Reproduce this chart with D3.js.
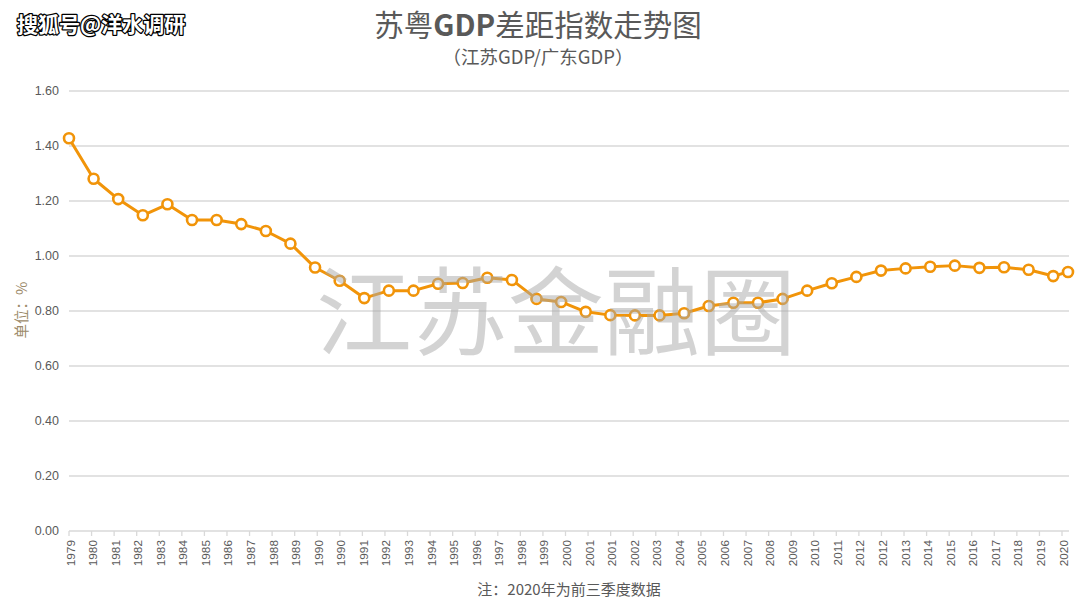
<!DOCTYPE html>
<html><head><meta charset="utf-8">
<script src="https://cdn.jsdelivr.net/npm/d3@7"></script>
<style>
html,body{margin:0;padding:0;background:#fff;}
svg{display:block;}
</style></head>
<body>
<svg id="chart" width="1080" height="603"></svg>
<script>
// ---- data ----
const years = [1979,1980,1981,1982,1983,1984,1985,1986,1987,1988,1989,1990,1991,1992,1993,1994,1995,1996,1997,1998,1999,2000,2001,2002,2003,2004,2005,2006,2007,2008,2009,2010,2011,2012,2013,2014,2015,2016,2017,2018,2019,2020];
// horizontal position of each point in year units (2020 = first three quarters, drawn short of a full year)
const xYears = [1979,1980,1981,1982,1983,1984,1985,1986,1987,1988,1989,1990,1991,1992,1993,1994,1995,1996,1997,1998,1999,2000,2001,2002,2003,2004,2005,2006,2007,2008,2009,2010,2011,2012,2013,2014,2015,2016,2017,2018,2019,2019.6];
const ratio = [1.428,1.281,1.207,1.148,1.188,1.131,1.131,1.116,1.091,1.045,0.958,0.910,0.847,0.874,0.874,0.899,0.902,0.921,0.913,0.844,0.833,0.797,0.785,0.784,0.784,0.792,0.818,0.830,0.830,0.844,0.874,0.901,0.924,0.947,0.955,0.961,0.965,0.957,0.959,0.950,0.927,0.942];
const xTickLabels = ["1979","1980","1981","1982","1983","1984","1985","1986","1987","1988","1989","1990","1990","1991","1992","1993","1994","1995","1996","1997","1998","1999","2000","2001","2001","2002","2003","2004","2005","2006","2007","2008","2009","2010","2011","2012","2012","2013","2014","2015","2016","2017","2018","2019","2020"];
const yTicks = [0,0.2,0.4,0.6,0.8,1.0,1.2,1.4,1.6];
const titleText = "苏粤GDP差距指数走势图";
const subtitleText = "（江苏GDP/广东GDP）";
const yAxisTitle = "单位：%";
const footnote = "注：2020年为前三季度数据";
const watermarkText = "江苏金融圈";
const sourceMark = "搜狐号@洋水调研";

(function () {
// ---- layout ----
const svg = d3.select("#chart");
const pLeft = 69, pRight = 1069, pTop = 91, pBottom = 531;
const lineColor = "#f19409";
const gridColor = "#d9d9d9";
const textColor = "#595959";

const x = d3.scaleLinear().domain([1979, 2019.6]).range([pLeft, 1068]);
const y = d3.scaleLinear().domain([0, 1.6]).range([pBottom, pTop]);
const xTick = d3.scalePoint().domain(d3.range(xTickLabels.length)).range([pLeft, 1062]);

// gridlines
svg.append("g").selectAll("line").data(yTicks.slice(1)).join("line")
  .attr("x1", pLeft).attr("x2", pRight)
  .attr("y1", d => y(d)).attr("y2", d => y(d))
  .attr("stroke", gridColor).attr("stroke-width", 1.3);

// y labels
svg.append("g").selectAll("text").data(yTicks).join("text")
  .attr("x", 59).attr("y", d => y(d)).attr("dy", "0.35em")
  .attr("text-anchor", "end")
  .attr("font-family", "Liberation Sans, Arial, sans-serif").attr("font-size", 12.5)
  .attr("fill", textColor).text(d => d.toFixed(2));

// x axis line & ticks
svg.append("line").attr("x1", pLeft).attr("x2", pRight).attr("y1", pBottom).attr("y2", pBottom)
  .attr("stroke", gridColor).attr("stroke-width", 1.5);
svg.append("g").selectAll("line").data(d3.range(xTickLabels.length)).join("line")
  .attr("x1", d => xTick(d)).attr("x2", d => xTick(d))
  .attr("y1", pBottom).attr("y2", pBottom + 5)
  .attr("stroke", gridColor).attr("stroke-width", 1.3);
svg.append("g").selectAll("text").data(xTickLabels).join("text")
  .attr("transform", (d, i) => `translate(${xTick(i) + 5.5},540) rotate(-90)`)
  .attr("text-anchor", "end")
  .attr("font-family", "Liberation Sans, Arial, sans-serif").attr("font-size", 11.8)
  .attr("fill", textColor).text(d => d);

// line
const pts = ratio.map((v, i) => [x(xYears[i]), y(v)]);
svg.append("path").attr("d", d3.line()(pts))
  .attr("fill", "none").attr("stroke", lineColor).attr("stroke-width", 3)
  .attr("stroke-linejoin", "round");
svg.append("g").selectAll("circle").data(pts).join("circle")
  .attr("cx", d => d[0]).attr("cy", d => d[1]).attr("r", 5)
  .attr("fill", "#fff").attr("stroke", lineColor).attr("stroke-width", 2.6);

// watermark
svg.append("text").attr("x", 556).attr("y", 305).attr("dominant-baseline", "central")
  .attr("text-anchor", "middle")
  .attr("font-family", "Noto Sans CJK SC, sans-serif").attr("font-size", 96)
  .attr("fill", "#a8a8a8").attr("fill-opacity", 0.5).text(watermarkText);

// titles
svg.append("text").attr("x", 538).attr("y", 23).attr("dominant-baseline", "central")
  .attr("text-anchor", "middle")
  .attr("font-family", "Noto Sans CJK SC, sans-serif").attr("font-size", 29.5)
  .attr("fill", textColor)
  .call(t => {
    t.append("tspan").text(titleText.slice(0, 2));
    t.append("tspan").attr("font-weight", "bold").text(titleText.slice(2, 5));
    t.append("tspan").text(titleText.slice(5));
  });
svg.append("text").attr("x", 538).attr("y", 56).attr("dominant-baseline", "central")
  .attr("text-anchor", "middle")
  .attr("font-family", "Noto Sans CJK SC, sans-serif").attr("font-size", 18.5)
  .attr("fill", textColor).text(subtitleText);

// y-axis title
svg.append("text").attr("transform", "translate(20,310) rotate(-90)")
  .attr("text-anchor", "middle").attr("dominant-baseline", "central")
  .attr("font-family", "Noto Sans CJK SC, sans-serif").attr("font-size", 14.5)
  .attr("fill", "#9c8a6a").text(yAxisTitle);

// footnote
svg.append("text").attr("x", 569).attr("y", 588).attr("dominant-baseline", "central")
  .attr("text-anchor", "middle")
  .attr("font-family", "Noto Sans CJK SC, sans-serif").attr("font-size", 15)
  .attr("fill", textColor).text(footnote);

// source mark
svg.append("text").attr("x", 17).attr("y", 23).attr("dominant-baseline", "central")
  .attr("font-family", "Noto Sans CJK SC, sans-serif").attr("font-size", 21)
  .attr("font-weight", "bold")
  .attr("fill", "#fff").attr("stroke", "#000").attr("stroke-width", 2.5)
  .attr("paint-order", "stroke").attr("stroke-linejoin", "round").text(sourceMark);
})();
</script>
</body></html>
